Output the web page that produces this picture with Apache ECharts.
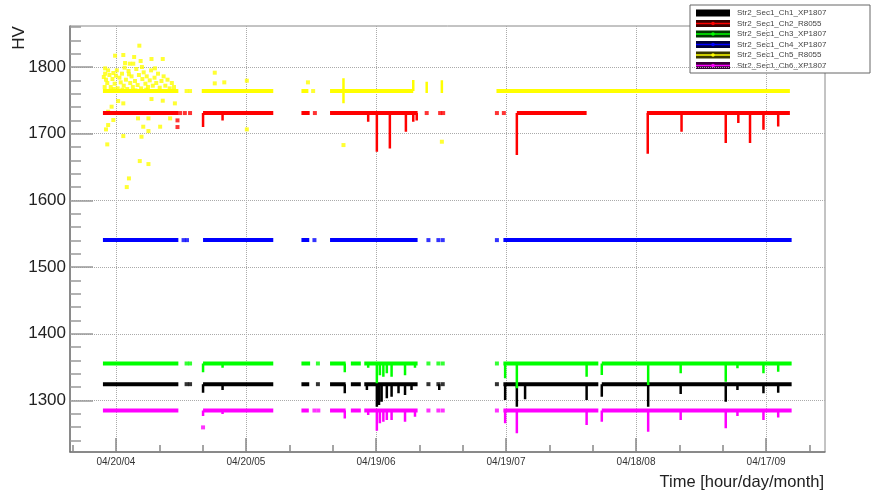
<!DOCTYPE html>
<html>
<head>
<meta charset="utf-8">
<script src="https://cdn.jsdelivr.net/npm/echarts@6/dist/echarts.min.js"></script>
<style>
  html, body { margin: 0; padding: 0; background: #fff; }
  #chart { width: 872px; height: 494px; }
</style>
</head>
<body>
<div id="chart"></div>
<script>
// Time axis: days counted from the first labelled tick
const tickDays = [0, 30, 60, 90, 120, 150];
const tickLabels = ['04/20/04', '04/20/05', '04/19/06', '04/19/07', '04/18/08', '04/17/09'];
const minorTickDays = [-10, 10, 20, 40, 50, 70, 80, 100, 110, 130, 140, 160];
const yTicks = [1300, 1400, 1500, 1600, 1700, 1800];
const yMinorTicks = [1240, 1260, 1280, 1320, 1340, 1360, 1380, 1420, 1440, 1460, 1480,
  1520, 1540, 1560, 1580, 1620, 1640, 1660, 1680, 1720, 1740, 1760, 1780, 1820, 1840, 1860];

const channelNames = ['Str2_Sec1_Ch1_XP1807', 'Str2_Sec1_Ch2_R8055', 'Str2_Sec1_Ch3_XP1807',
  'Str2_Sec1_Ch4_XP1807', 'Str2_Sec1_Ch5_R8055', 'Str2_Sec1_Ch6_XP1807'];
const nominalHV = [1324.5, 1731, 1355.5, 1540.5, 1764, 1285];

// Ch1 (black)
const ch1Segments = [[-3.0, 14.4], [20.1, 36.3], [42.8, 44.6], [49.4, 53.0], [54.2, 56.5], [57.3, 69.6], [89.4, 111.3], [112.1, 155.9]];
const ch1Dots = [16.3, 17.1, 46.6, 72.1, 74.4, 75.4, 87.9];
const ch1Dips = [[20.1, 1311.7], [24.6, 1315.7], [52.8, 1310.8], [57.9, 1315.7], [60.2, 1290.8], [60.7, 1293.3],
  [61.3, 1298.2], [62.5, 1303.3], [63.6, 1305.8], [65.2, 1310.8], [66.7, 1308.2], [68.2, 1315.7], [74.6, 1315.7],
  [89.8, 1300.7], [92.5, 1290.7], [94.4, 1301.8], [108.6, 1300.7], [112.1, 1305.8], [122.8, 1290.7],
  [130.3, 1309.8], [140.7, 1298.2], [143.4, 1315.7], [149.4, 1310.8], [152.8, 1311.7]];
const ch1Strays = [];

// Ch2 (red)
const ch2Segments = [[-3.0, 14.4], [20.1, 36.3], [42.8, 44.7], [49.4, 69.6], [92.5, 108.6], [122.5, 155.5]];
const ch2Dots = [14.8, 15.9, 17.1, 45.9, 71.7, 74.8, 75.5, 87.9, 89.5];
const ch2Dips = [[20.1, 1710], [24.6, 1720], [58.2, 1718], [60.2, 1673], [63.2, 1678], [66.9, 1703], [68.6, 1718],
  [69.4, 1720], [92.5, 1668], [122.7, 1670], [130.5, 1703], [140.7, 1686], [143.6, 1716], [146.3, 1686],
  [149.4, 1706], [152.8, 1711]];
const ch2Strays = [[14.2, 1720], [14.2, 1710]];

// Ch3 (green)
const ch3Segments = [[-3.0, 14.4], [20.1, 36.3], [42.8, 44.8], [49.4, 53.0], [54.2, 56.5], [57.3, 69.6], [89.4, 111.3], [112.1, 155.9]];
const ch3Dots = [16.3, 17.1, 46.6, 72.1, 74.4, 75.4, 87.9];
const ch3Dips = [[20.1, 1342.5], [24.6, 1349], [52.8, 1342.5], [58.2, 1349], [60.2, 1325.8], [60.9, 1338],
  [61.7, 1335.7], [62.5, 1340.8], [63.6, 1335.7], [66.7, 1338], [69.0, 1349], [89.8, 1333.3], [92.5, 1318.3],
  [108.6, 1335.7], [112.1, 1338.2], [122.8, 1323.2], [130.3, 1340.8], [140.7, 1328.2], [143.4, 1348.3],
  [149.4, 1340.8], [152.8, 1343.2]];
const ch3Strays = [];

// Ch4 (blue)
const ch4Segments = [[-3.0, 14.4], [20.1, 36.3], [42.8, 44.6], [49.4, 69.6], [89.4, 155.9]];
const ch4Dots = [15.6, 16.4, 45.8, 72.1, 74.4, 75.4, 87.9];
const ch4Dips = [];
const ch4Strays = [];

// Ch5 (yellow)
const ch5Segments = [[-3.0, 14.4], [19.8, 36.3], [42.8, 44.4], [49.4, 68.6], [87.8, 155.5]];
const ch5Dots = [16.3, 17.1, 45.5];
const ch5Dips = [[52.5, 1783], [52.5, 1745.5], [68.6, 1780.5], [71.7, 1778], [71.7, 1761], [75.2, 1780], [75.2, 1761]];
const ch5Strays = [
  [5.4, 1832], [-0.2, 1817], [1.7, 1818], [4.2, 1815], [5.7, 1809], [8.2, 1812], [10.8, 1812], [2.1, 1806],
  [3.2, 1805], [4.0, 1805], [-2.5, 1798], [-2.5, 1790], [-2.3, 1781], [-0.6, 1791],
  [-2.8, 1785], [-2.0, 1776], [-1.5, 1788], [-1.2, 1770], [-0.8, 1782], [-0.3, 1775], [0.2, 1795], [0.4, 1768],
  [0.8, 1784], [1.1, 1777], [1.4, 1790], [1.8, 1772], [2.3, 1781], [2.6, 1767], [2.9, 1794], [3.3, 1776],
  [3.6, 1786], [3.9, 1770], [4.4, 1779], [4.7, 1797], [5.0, 1773], [5.3, 1788], [5.8, 1768], [6.1, 1782],
  [6.4, 1792], [6.8, 1775], [7.1, 1786], [7.4, 1770], [7.8, 1780], [8.1, 1795], [8.5, 1772], [8.9, 1784],
  [9.3, 1776], [9.7, 1790], [10.1, 1769], [10.5, 1779], [11.0, 1786], [11.4, 1772], [11.9, 1781], [12.4, 1768],
  [12.9, 1776], [13.4, 1770], [-1.8, 1795], [0.0, 1787], [2.0, 1799], [3.0, 1789], [4.5, 1765], [6.0, 1800],
  [7.0, 1766], [9.0, 1798], [-2.6, 1770], [-0.5, 1767], [1.5, 1766],
  [8.2, 1752], [10.8, 1749.5], [13.6, 1745.5], [0.5, 1749], [1.7, 1745.5], [-1.0, 1740.5], [-1.8, 1733],
  [-0.6, 1720.5], [-1.8, 1713], [-2.3, 1706.5], [5.1, 1723], [7.5, 1723], [12.5, 1723], [6.3, 1710.5],
  [10.2, 1710.5], [1.7, 1696.5], [5.9, 1695.5], [7.5, 1704], [-2.0, 1684], [5.5, 1659], [7.5, 1654.5],
  [2.5, 1620], [3.0, 1633],
  [22.8, 1791.5], [22.8, 1775.5], [25.0, 1777], [30.2, 1779.5], [30.2, 1706.5], [52.5, 1683], [75.2, 1688], [44.3, 1777]
];

// Ch6 (magenta)
const ch6Segments = [[-3.0, 14.4], [20.1, 36.3], [42.8, 44.5], [49.4, 53.0], [54.2, 56.5], [57.3, 69.6], [89.4, 111.3], [112.1, 155.9]];
const ch6Dots = [45.8, 46.7, 72.1, 74.4, 75.4, 87.9];
const ch6Dips = [[20.1, 1276.7], [24.6, 1279.7], [52.8, 1273.2], [58.2, 1278.2], [60.2, 1254.8], [60.9, 1265.8],
  [61.7, 1268.3], [62.5, 1270.8], [63.6, 1270.8], [66.7, 1268.3], [69.0, 1275.7], [89.8, 1265.8], [92.5, 1250.8],
  [108.6, 1263.3], [112.1, 1268.3], [122.8, 1253.3], [130.3, 1270.8], [140.7, 1258.3], [143.4, 1276.7],
  [149.4, 1270.8], [152.8, 1274.7]];
const ch6Strays = [[20.1, 1259.7]];

const channels = [
  { segments: ch1Segments, dots: ch1Dots, dips: ch1Dips, strays: ch1Strays },
  { segments: ch2Segments, dots: ch2Dots, dips: ch2Dips, strays: ch2Strays },
  { segments: ch3Segments, dots: ch3Dots, dips: ch3Dips, strays: ch3Strays },
  { segments: ch4Segments, dots: ch4Dots, dips: ch4Dips, strays: ch4Strays },
  { segments: ch5Segments, dots: ch5Dots, dips: ch5Dips, strays: ch5Strays },
  { segments: ch6Segments, dots: ch6Dots, dips: ch6Dips, strays: ch6Strays }
];

// Styling
const colors = ['#000000', '#ff0000', '#00ff00', '#0000ff', '#ffff00', '#ff00ff'];
const darkColors = ['#000000', '#3a0000', '#003a00', '#00003a', '#3a3a00', '#3a003a'];
const FONT = '"Liberation Sans", Arial, Helvetica, sans-serif';

function bandData(level, segs) {
  const out = [];
  segs.forEach(([a, b]) => { out.push([a, level], [b, level], [b, '-']); });
  return out;
}
function dipData(level, dips) {
  const out = [];
  dips.forEach(([t, v]) => { out.push([t, level], [t, v], [t, '-']); });
  return out;
}

const series = [];
channels.forEach((ch, i) => {
  const lvl = nominalHV[i];
  series.push({
    type: 'line', name: channelNames[i], data: bandData(lvl, ch.segments),
    symbol: 'none', connectNulls: false, silent: true,
    lineStyle: { color: colors[i], width: 4, cap: 'butt' }
  });
  series.push({
    type: 'line', data: dipData(lvl, ch.dips),
    symbol: 'none', connectNulls: false, silent: true,
    lineStyle: { color: colors[i], width: 2.5, cap: 'butt' }
  });
  series.push({
    type: 'scatter', silent: true,
    data: ch.dots.map(t => [t, lvl]).concat(ch.strays),
    symbol: 'rect', symbolSize: 4,
    itemStyle: { color: colors[i] }
  });
});

// Legend box
const legendX = 690, legendY = 5, legendW = 180, legendH = 68;
const legendEls = [{
  type: 'rect', shape: { x: legendX, y: legendY, width: legendW, height: legendH },
  style: { fill: '#fff', stroke: '#666', lineWidth: 1 }
}];
channelNames.forEach((name, i) => {
  const cy = legendY + 8 + i * 10.5;
  legendEls.push({
    type: 'rect', shape: { x: 696, y: cy - 3.5, width: 34, height: 7 },
    style: { fill: i === 0 ? '#000' : darkColors[i] }
  });
  if (i > 0) {
    legendEls.push({
      type: 'line', shape: { x1: 696, y1: cy, x2: 730, y2: cy },
      style: { stroke: colors[i], lineWidth: 1.5 }
    });
    legendEls.push({
      type: 'circle', shape: { cx: 713, cy: cy, r: 1.8 },
      style: { fill: colors[i] }
    });
  }
  legendEls.push({
    type: 'text', x: 737, y: cy,
    style: { text: name, font: '8px ' + FONT, fill: '#444', verticalAlign: 'middle', align: 'left' }
  });
});

const chart = echarts.init(document.getElementById('chart'), null, { renderer: 'canvas' });
chart.setOption({
  animation: false,
  backgroundColor: '#fff',
  grid: { left: 70, right: 47, top: 26, bottom: 42, show: true, borderColor: '#888', borderWidth: 1, backgroundColor: 'transparent' },
  xAxis: [{
    type: 'value', min: -10.6, max: 163.6, position: 'bottom',
    axisLine: { show: true, onZero: false, lineStyle: { color: '#777', width: 1.5 } },
    axisTick: { show: true, inside: true, length: 14, customValues: tickDays, lineStyle: { color: '#888', width: 1.5 } },
    axisLabel: {
      show: true, customValues: tickDays, margin: 5, fontSize: 10, color: '#333', fontFamily: FONT,
      formatter: v => tickLabels[tickDays.indexOf(Math.round(v))] || ''
    },
    splitLine: { show: true, lineStyle: { type: 'dotted', color: '#aaa', width: 1 } }
  }, {
    type: 'value', min: -10.6, max: 163.6, position: 'bottom', gridIndex: 0,
    axisLine: { show: false, onZero: false },
    axisTick: { show: true, inside: true, length: 7, customValues: minorTickDays, lineStyle: { color: '#888', width: 1.5 } },
    axisLabel: { show: false },
    splitLine: { show: false }
  }],
  yAxis: [{
    type: 'value', min: 1222.8, max: 1861.5, position: 'left',
    axisLine: { show: true, onZero: false, lineStyle: { color: '#777', width: 1.5 } },
    axisTick: { show: true, inside: true, length: 23, customValues: yTicks, lineStyle: { color: '#999', width: 1.5 } },
    axisLabel: {
      show: true, customValues: yTicks, margin: 4, fontSize: 17, color: '#222', fontFamily: FONT,
      formatter: v => String(Math.round(v))
    },
    splitLine: { show: true, lineStyle: { type: 'dotted', color: '#aaa', width: 1 } }
  }, {
    type: 'value', min: 1222.8, max: 1861.5, position: 'left', gridIndex: 0,
    axisLine: { show: false, onZero: false },
    axisTick: { show: true, inside: true, length: 11, customValues: yMinorTicks, lineStyle: { color: '#999', width: 1.5 } },
    axisLabel: { show: false },
    splitLine: { show: false }
  }],
  series: series,
  graphic: [
    {
      type: 'text', x: 19, y: 38, rotation: Math.PI / 2,
      style: { text: 'HV', font: '17px ' + FONT, fill: '#222', align: 'center', verticalAlign: 'middle' }
    },
    {
      type: 'text', x: 824, y: 482,
      style: { text: 'Time [hour/day/month]', font: '16.5px ' + FONT, fill: '#222', align: 'right', verticalAlign: 'middle' }
    },
    { type: 'group', children: legendEls, z: 100 }
  ]
});
</script>
</body>
</html>
